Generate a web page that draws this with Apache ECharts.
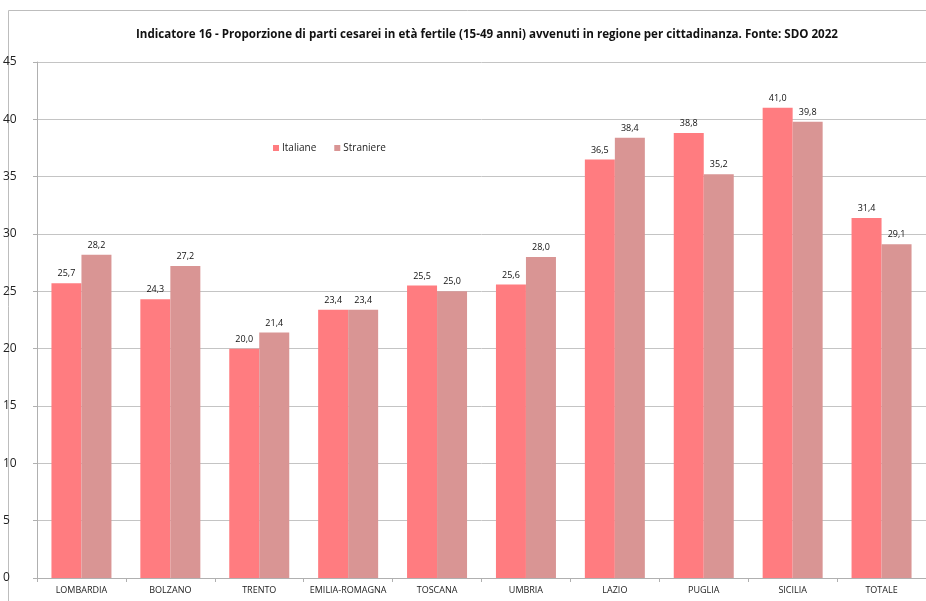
<!DOCTYPE html>
<html><head><meta charset="utf-8">
<script src="https://cdn.jsdelivr.net/npm/echarts@6/dist/echarts.min.js"></script>
<style>html,body{margin:0;padding:0;background:#fff}#c{width:926px;height:601px}</style>
</head><body><div id="c"></div>
<script>
var categories = ['LOMBARDIA','BOLZANO','TRENTO','EMILIA-ROMAGNA','TOSCANA','UMBRIA','LAZIO','PUGLIA','SICILIA','TOTALE'];
var italiane = [25.7, 24.3, 20.0, 23.4, 25.5, 25.6, 36.5, 38.8, 41.0, 31.4];
var straniere = [28.2, 27.2, 21.4, 23.4, 25.0, 28.0, 38.4, 35.2, 39.8, 29.1];
var titleText = 'Indicatore 16 - Proporzione di parti cesarei in età fertile (15-49 anni) avvenuti in regione per cittadinanza. Fonte: SDO 2022';
var FONT = 'Open Sans';
var chart = echarts.init(document.getElementById('c'), null, {renderer:'canvas'});
function lab(){ return {show:true, position:'top', distance:5, fontFamily:FONT, fontSize:9, color:'#111',
  formatter:function(p){return p.value.toFixed(1).replace('.',',');}}; }
chart.setOption({
  animation:false,
  graphic:[{type:'rect', shape:{x:8.5,y:10.5,width:1000,height:1000}, style:{fill:'none', stroke:'#bdbdbd', lineWidth:1}, z:-1}],
  title:{text:titleText, left:482, top:24, textAlign:'center',
    textStyle:{fontFamily:FONT, fontSize:11.6, fontWeight:'bold', color:'#111'}},
  legend:{left:268, top:138, itemWidth:6, itemHeight:6, itemGap:18, icon:'rect',
    textStyle:{fontFamily:FONT, fontSize:10, color:'#222', padding:[0,0,0,-2]},
    data:['Italiane','Straniere']},
  grid:{left:34, top:62, width:900, height:516, containLabel:false},
  xAxis:{type:'category', data:categories,
    axisLine:{lineStyle:{color:'#b0b0b0'}},
    axisTick:{show:true, length:4, alignWithLabel:false, lineStyle:{color:'#b0b0b0'}},
    axisLabel:{fontFamily:FONT, fontSize:9, color:'#222', margin:8, interval:0}},
  yAxis:{type:'value', min:0, max:45, interval:5,
    axisLine:{show:true, lineStyle:{color:'#b0b0b0'}},
    axisTick:{show:true, length:4, lineStyle:{color:'#b0b0b0'}},
    splitLine:{lineStyle:{color:'#c4c4c4'}},
    axisLabel:{fontFamily:FONT, fontSize:12, color:'#222', margin:8, align:'left', padding:[0,0,0,-26]}},
  series:[
    {name:'Italiane', type:'bar', data:italiane, barWidth:30, barGap:'0%', itemStyle:{color:'#FF7C80'}, label:lab()},
    {name:'Straniere', type:'bar', data:straniere, barWidth:30, barGap:'0%', itemStyle:{color:'#D99594'}, label:lab()}
  ]
});
</script></body></html>
